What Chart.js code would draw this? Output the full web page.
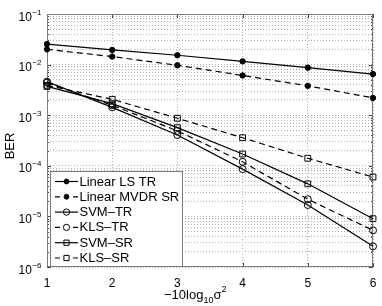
<!DOCTYPE html>
<html><head><meta charset="utf-8">
<script src="https://cdn.jsdelivr.net/npm/chart.js@4.4.1/dist/chart.umd.min.js"></script>
<style>html,body{margin:0;padding:0;background:#fff;}#wrap{width:382px;height:306px;position:relative;}</style>
</head><body><div id="wrap"><canvas id="c" width="382" height="306"></canvas></div>
<script>
const xValues = [1, 2, 3, 4, 5, 6];
const xTickLabels = ['1', '2', '3', '4', '5', '6'];
const yTickExponents = [-1, -2, -3, -4, -5, -6];
const seriesNames = ['Linear LS TR', 'Linear MVDR SR', 'SVM\u2013TR', 'KLS\u2013TR', 'SVM\u2013SR', 'KLS\u2013SR'];
const linearLSTR   = [0.0255, 0.0195, 0.0153, 0.0116, 0.0087, 0.0065];
const linearMVDRSR = [0.0200, 0.0144, 0.0097, 0.0061, 0.0038, 0.0022];
const svmTR        = [4.6e-3, 1.43e-3, 4.06e-4, 8.6e-5, 1.68e-5, 2.56e-6];
const klsTR        = [4.4e-3, 1.57e-3, 4.9e-4, 1.2e-4, 2.18e-5, 5.3e-6];
const svmSR        = [3.7e-3, 1.69e-3, 5.67e-4, 1.71e-4, 4.4e-5, 9.0e-6];
const klsSR        = [3.9e-3, 2.06e-3, 8.7e-4, 3.59e-4, 1.41e-4, 6.0e-5];
const xTitle = ['\u221210log', '10', '\u03c3', '2'];
const yTitle = 'BER';

const FONT = '"Liberation Sans", Arial, Helvetica, sans-serif';
const seriesValues = [linearLSTR, linearMVDRSR, svmTR, klsTR, svmSR, klsSR];
const seriesLook = [
  {dash: [], style: 'circle', r: 2.7, fill: true},
  {dash: [6, 4], style: 'circle', r: 2.7, fill: true},
  {dash: [], style: 'circle', r: 3.5, fill: false},
  {dash: [6, 4], style: 'circle', r: 3.5, fill: false},
  {dash: [], style: 'rect', r: 4.1, fill: false},
  {dash: [6, 4], style: 'rect', r: 4.1, fill: false}
];

const datasets = seriesValues.map((vals, i) => ({
  label: seriesNames[i],
  data: xValues.map((x, j) => ({x: x, y: vals[j]})),
  borderColor: '#000',
  borderWidth: 1.2,
  borderDash: seriesLook[i].dash,
  pointStyle: seriesLook[i].style,
  pointRadius: seriesLook[i].r,
  pointBorderWidth: 1,
  pointBorderColor: '#000',
  pointBackgroundColor: seriesLook[i].fill ? '#000' : 'rgba(0,0,0,0)',
  tension: 0,
  fill: false,
  clip: false
}));

function isDecade(v) { const l = Math.log10(v); return Math.abs(l - Math.round(l)) < 1e-9; }

function drawMarker(ctx, style, x, y, r, filled) {
  ctx.beginPath();
  if (style === 'circle') ctx.arc(x, y, r, 0, 2 * Math.PI);
  else { const s = r * Math.SQRT1_2; ctx.rect(x - s, y - s, 2 * s, 2 * s); }
  if (filled) { ctx.fillStyle = '#000'; ctx.fill(); }
  ctx.stroke();
}

const matlabPlugin = {
  id: 'matlab',
  beforeDatasetsDraw(chart) {
    const {ctx, chartArea: a, scales: {x, y}} = chart;
    ctx.save();
    ctx.setLineDash([]);
    ctx.strokeStyle = '#444';
    ctx.lineWidth = 1;
    ctx.beginPath();
    x.ticks.forEach(t => {
      const px = Math.round(x.getPixelForValue(t.value)) + 0.5;
      ctx.moveTo(px, a.bottom); ctx.lineTo(px, a.bottom - 4);
      ctx.moveTo(px, a.top); ctx.lineTo(px, a.top + 4);
    });
    y.ticks.forEach(t => {
      const py = Math.round(y.getPixelForValue(t.value)) + 0.5;
      const L = isDecade(t.value) ? 4 : 2;
      ctx.moveTo(a.left, py); ctx.lineTo(a.left + L, py);
      ctx.moveTo(a.right, py); ctx.lineTo(a.right - L, py);
    });
    ctx.stroke();
    ctx.strokeStyle = '#7a7a7a';
    ctx.strokeRect(a.left + 0.5, a.top + 0.5, a.right - a.left - 1, a.bottom - a.top - 1);
    ctx.restore();
  },
  afterDatasetsDraw(chart) {
    const ctx = chart.ctx;
    ctx.save();
    const bx = 50, by = 171, bw = 132, bh = 95;
    ctx.fillStyle = '#fff';
    ctx.fillRect(bx, by, bw, bh);
    ctx.strokeStyle = '#7a7a7a';
    ctx.lineWidth = 1;
    ctx.strokeRect(bx + 0.5, by + 0.5, bw, bh);
    ctx.font = '13px ' + FONT;
    ctx.textBaseline = 'middle';
    ctx.textAlign = 'left';
    chart.data.datasets.forEach((ds, i) => {
      const yy = 181.5 + i * 15.3;
      ctx.strokeStyle = '#000';
      ctx.lineWidth = 1.2;
      ctx.setLineDash([]);
      ctx.beginPath();
      if (ds.borderDash && ds.borderDash.length) {
        ctx.moveTo(55, yy); ctx.lineTo(60, yy);
        ctx.moveTo(73, yy); ctx.lineTo(78, yy);
      } else {
        ctx.moveTo(55, yy); ctx.lineTo(78, yy);
      }
      ctx.stroke();
      ctx.lineWidth = 1;
      drawMarker(ctx, ds.pointStyle, 66.5, yy, ds.pointRadius * 0.9, ds.pointBackgroundColor === '#000');
      ctx.fillStyle = '#000';
      ctx.fillText(ds.label, 79.5, yy + 0.5);
    });
    ctx.restore();
  },
  afterDraw(chart) {
    const {ctx, chartArea: a, scales: {x, y}} = chart;
    ctx.save();
    ctx.fillStyle = '#000';
    ctx.font = '12px ' + FONT;
    ctx.textAlign = 'center';
    ctx.textBaseline = 'alphabetic';
    xValues.forEach((v, i) => {
      ctx.fillText(xTickLabels[i], x.getPixelForValue(v), 287);
    });
    yTickExponents.forEach(e => {
      const py = y.getPixelForValue(Math.pow(10, e));
      const sup = '\u2212' + Math.abs(e);
      ctx.font = '8px ' + FONT;
      const sw = ctx.measureText(sup).width;
      const sx = 41.5 - sw;
      ctx.textAlign = 'left';
      ctx.fillText(sup, sx, py + 0.5);
      ctx.font = '12px ' + FONT;
      ctx.textAlign = 'right';
      ctx.fillText('10', sx - 0.5, py + 6.5);
    });
    ctx.textAlign = 'left';
    let tx = 164;
    const base = 299;
    ctx.font = '13px ' + FONT;
    ctx.fillText(xTitle[0], tx, base); tx += ctx.measureText(xTitle[0]).width;
    ctx.font = '9px ' + FONT;
    ctx.fillText(xTitle[1], tx, base + 4); tx += ctx.measureText(xTitle[1]).width;
    ctx.font = '13px ' + FONT;
    ctx.fillText(xTitle[2], tx, base); tx += ctx.measureText(xTitle[2]).width;
    ctx.font = '9px ' + FONT;
    ctx.fillText(xTitle[3], tx, base - 7);
    ctx.save();
    ctx.translate(10, 146);
    ctx.rotate(-Math.PI / 2);
    ctx.font = '13px ' + FONT;
    ctx.textAlign = 'center';
    ctx.textBaseline = 'middle';
    ctx.fillText(yTitle, 0, 0);
    ctx.restore();
    ctx.restore();
  }
};

new Chart(document.getElementById('c'), {
  type: 'line',
  data: {datasets: datasets},
  options: {
    responsive: false,
    animation: false,
    devicePixelRatio: 1,
    layout: {padding: {left: 47, right: 9, top: 14, bottom: 39}},
    plugins: {legend: {display: false}, tooltip: {enabled: false}},
    scales: {
      x: {
        type: 'linear', min: 1, max: 6,
        afterBuildTicks: s => { s.ticks = xValues.map(v => ({value: v})); },
        ticks: {display: false, autoSkip: false},
        grid: {color: '#b0b0b0', lineWidth: 1, drawTicks: false},
        border: {display: false, dash: [1, 2]}
      },
      y: {
        type: 'logarithmic', min: 1e-6, max: 1e-1,
        afterBuildTicks: s => {
          const t = [];
          for (let e = -6; e <= -1; e++) {
            for (let k = 1; k <= 9; k++) {
              const v = k * Math.pow(10, e);
              if (v <= 0.1 + 1e-12) t.push({value: v});
            }
          }
          s.ticks = t;
        },
        ticks: {display: false, autoSkip: false},
        grid: {color: '#b0b0b0', lineWidth: 1, drawTicks: false},
        border: {display: false, dash: [1, 2]}
      }
    }
  },
  plugins: [matlabPlugin]
});
</script>
</body></html>
